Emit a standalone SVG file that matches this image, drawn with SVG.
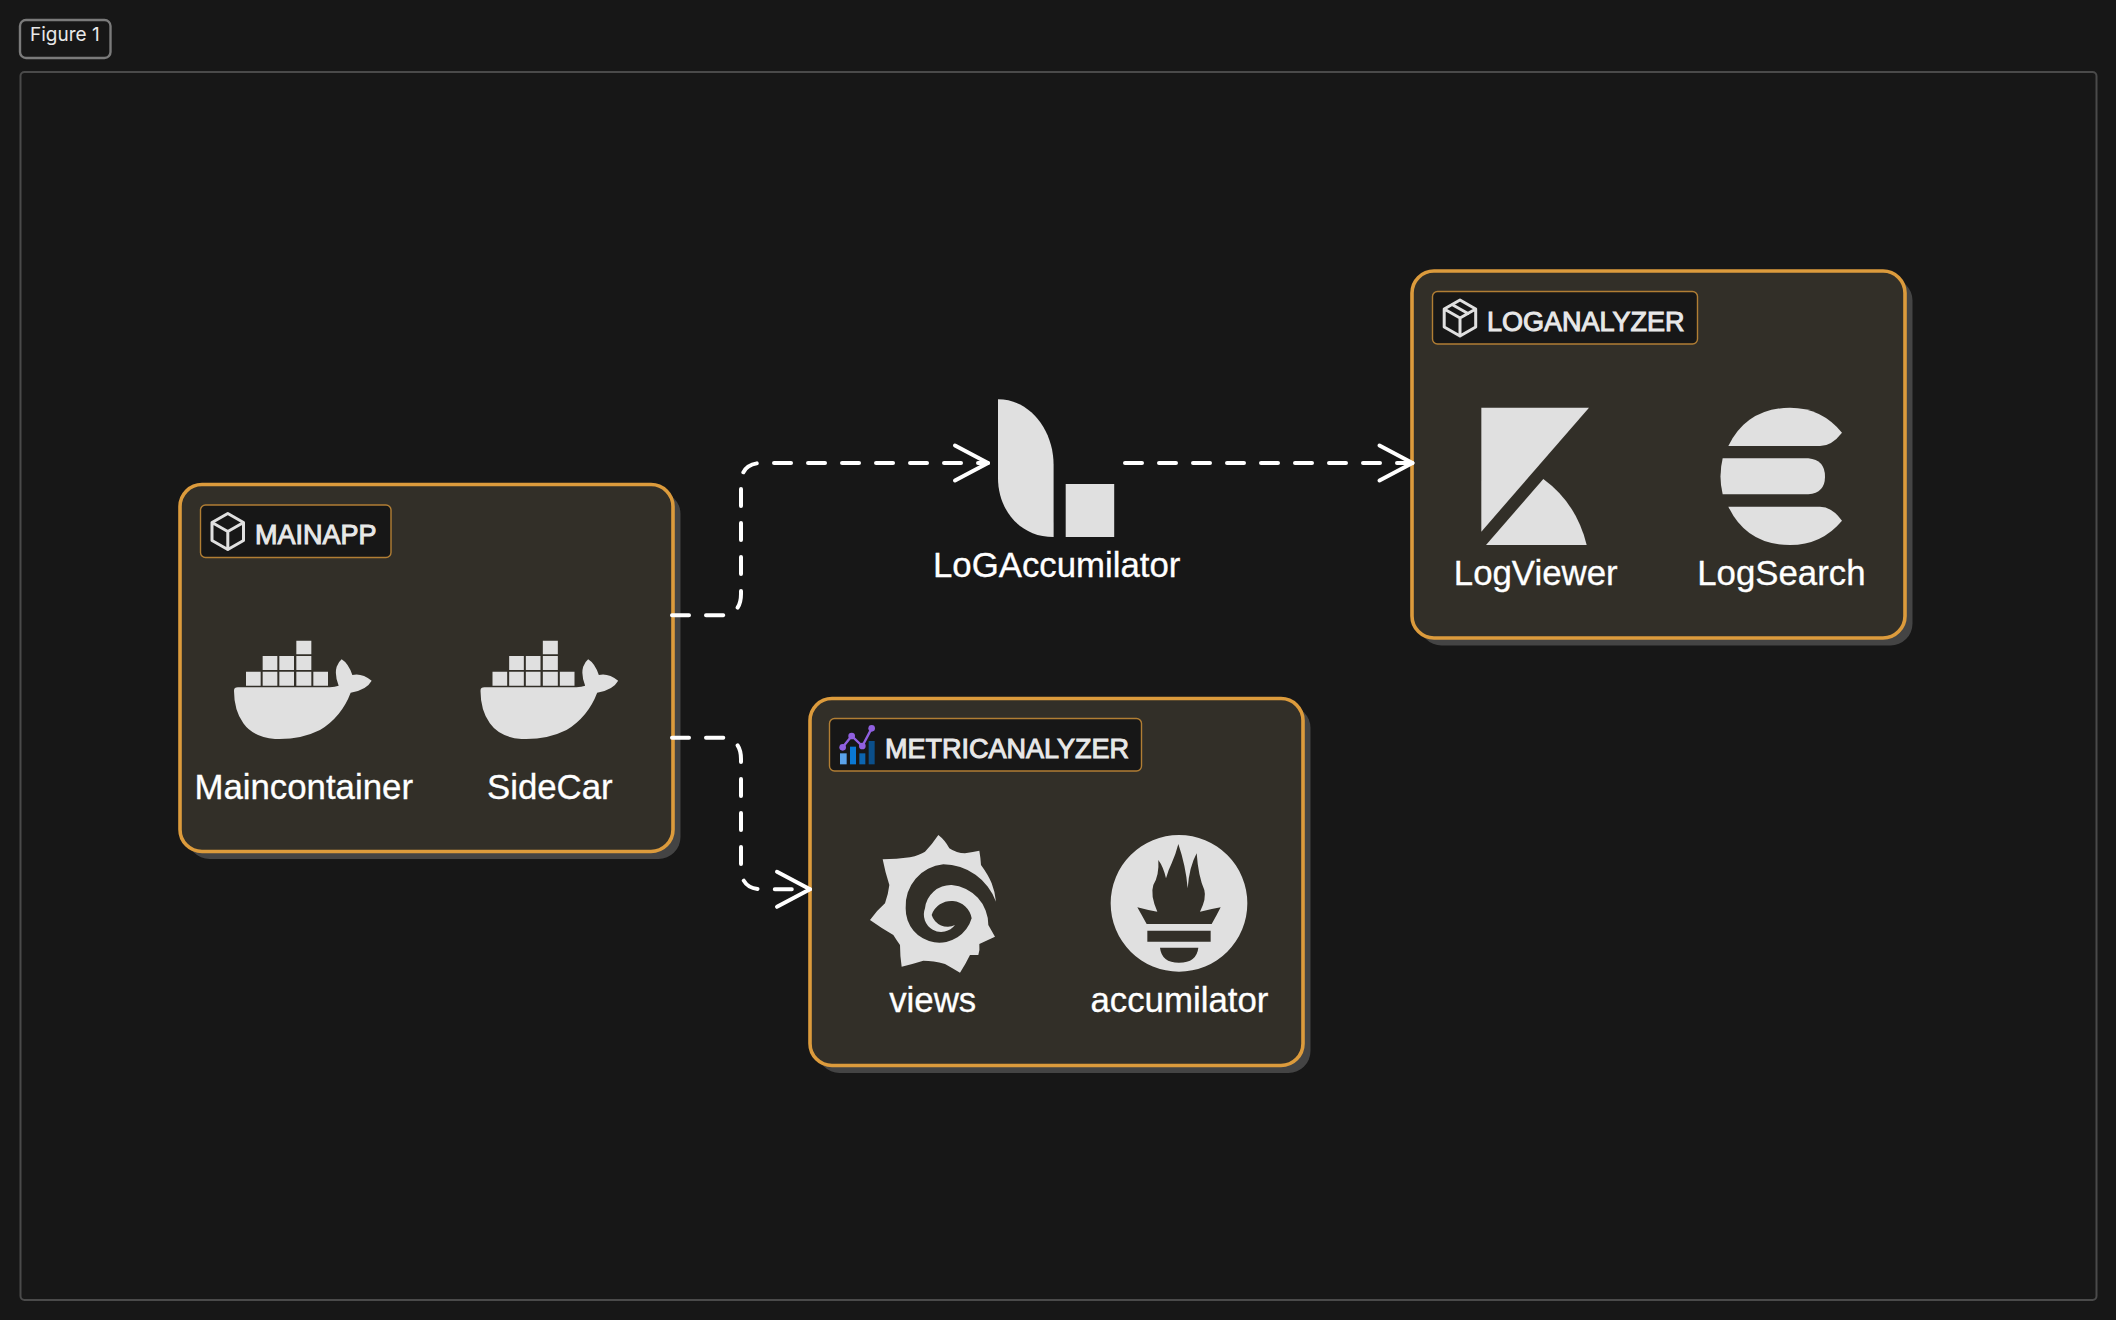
<svg xmlns="http://www.w3.org/2000/svg" width="2116" height="1320" viewBox="0 0 2116 1320">
<style>
.bg{fill:#171717}
.frame{fill:none;stroke:#4a4a4a;stroke-width:2}
.tag{fill:#171717;stroke:#7b7b7b;stroke-width:2.4}
.tagt{font:19px Inter,"Liberation Sans",sans-serif;fill:#e8e8e8}
.shadow{fill:#444}
.box{fill:#322f28;stroke:#dc9b3c;stroke-width:3.6}
.lab{fill:#171717;stroke:#b17e34;stroke-width:1.4}
.title{font:27px "Liberation Sans",Arial,sans-serif;fill:#e8e8e8;stroke:#e8e8e8;stroke-width:1}
.name{font:34.8px "Liberation Sans",Arial,sans-serif;fill:#fff;stroke:#fff;stroke-width:.3;text-anchor:middle}
.ico{fill:#e0e0e0}
.cube{fill:none;stroke:#e0e0e0;stroke-width:3;stroke-linejoin:round;stroke-linecap:round}
.edge{fill:none;stroke:#fff;stroke-width:4;stroke-dasharray:17 17;stroke-linecap:round;marker-end:url(#open)}
</style>
<defs>
<marker id="open" markerUnits="userSpaceOnUse" markerWidth="44" markerHeight="48" refX="36" refY="22" orient="auto" overflow="visible">
<path d="M3 4.500 L36 22 L3 39.500" fill="none" stroke="#fff" stroke-width="4" stroke-linecap="round" stroke-linejoin="round"/>
</marker>
<g id="docker">
<path class="ico" d="M42 212Q42 202 54 202L330 202Q345 201 356 197Q343 165 350 140Q356 125 365 118Q385 130 397 165Q425 158 455 182Q440 210 392 218Q365 290 300 330Q240 360 165 357Q100 352 70 310Q42 270 42 212Z"/>
<path class="ico" d="M229 62h45v41h-45zM128 108h44v42h-44zM178 108h44v42h-44zM229 108h45v42h-45zM78 155h44v42h-44zM128 155h44v42h-44zM178 155h44v42h-44zM229 155h45v42h-45zM280 155h44v42h-44z"/>
</g>
</defs>
<rect class="bg" width="2116" height="1320"/>
<g id="figure-tag"><rect class="tag" x="20" y="20" width="90.500" height="38" rx="6"/><text class="tagt" x="30" y="41">Figure 1</text></g>
<rect class="frame" x="20.500" y="72" width="2076" height="1228" rx="4"/>

<g id="MAINAPP">
<rect class="shadow" x="187.500" y="492" width="493" height="367" rx="22"/>
<rect class="box" x="180" y="484.500" width="493" height="367" rx="22"/>
<rect class="lab" x="200.500" y="505" width="190.500" height="52.500" rx="5"/>
<path class="cube" d="M227.800 513.500L243.500 522.500V540.500L227.800 549.500L212 540.500V522.500ZM212 522.500L227.800 531.500L243.500 522.500M227.800 531.500V549.500"/>
<text class="title" x="255" y="544">MAINAPP</text>
<g id="Maincontainer"><use href="#docker" transform="translate(220 620) scale(.33333)"/><text class="name" x="303.700" y="799">Maincontainer</text></g>
<g id="SideCar"><use href="#docker" transform="translate(466.500 620) scale(.33333)"/><text class="name" x="549.800" y="799">SideCar</text></g>
</g>

<g id="LoGAccumilator">
<path class="ico" d="M998 399.300C1030 399.300 1053.600 430 1053.600 465V537C1020 537 998 510 998 478Z"/>
<rect class="ico" x="1065.700" y="484" width="48.500" height="53"/>
<text class="name" x="1056.700" y="577">LoGAccumilator</text>
</g>

<g id="LOGANALYZER">
<rect class="shadow" x="1419.500" y="278.500" width="493" height="367" rx="22"/>
<rect class="box" x="1412" y="271" width="493" height="367" rx="22"/>
<rect class="lab" x="1432.500" y="291.500" width="265" height="52.500" rx="5"/>
<path class="cube" d="M1460 300L1475.700 309V327L1460 336L1444.200 327V309ZM1444.200 309L1460 318L1475.700 309M1460 318V336M1452 304.500L1468 313.500"/>
<text class="title" x="1487" y="330.700">LOGANALYZER</text>
<g id="LogViewer">
<g transform="translate(1460 390) scale(.33333)"><path class="ico" d="M64 53H387L64 425Z"/><path class="ico" d="M250 267Q350 340 380 465H78Z"/></g>
<text class="name" x="1535.700" y="585">LogViewer</text>
</g>
<g id="LogSearch">
<g transform="translate(1460 390) scale(.33333)"><path class="ico" d="M805 168Q860 55 990 53Q1085 53 1146 128Q1115 168 1080 168Z"/><path class="ico" d="M788 205H1045Q1095 210 1095 260Q1095 308 1045 313H788Q775 260 788 205Z"/><path class="ico" d="M805 350H1080Q1115 350 1146 392Q1085 465 990 465Q860 465 805 350Z"/></g>
<text class="name" x="1781.400" y="585">LogSearch</text>
</g>
</g>

<g id="METRICANALYZER">
<rect class="shadow" x="817.500" y="706" width="493" height="367" rx="22"/>
<rect class="box" x="810" y="698.500" width="493" height="367" rx="22"/>
<rect class="lab" x="829.500" y="718.500" width="312" height="52.500" rx="5"/>
<g transform="translate(820 710) scale(.33333)">
<rect x="60" y="130" width="20" height="33" fill="#5ba3ea"/><rect x="90" y="110" width="18" height="53" fill="#0a78d4"/><rect x="118" y="130" width="18" height="33" fill="#0c65b0"/><rect x="146" y="93" width="18" height="70" fill="#0b4f8a"/>
<path d="M68 112L95 78L127 108L155 55" fill="none" stroke="#9060e0" stroke-width="7"/>
<circle cx="68" cy="112" r="10" fill="#9060e0"/><circle cx="95" cy="78" r="10" fill="#9060e0"/><circle cx="127" cy="108" r="10" fill="#9060e0"/><circle cx="155" cy="55" r="10" fill="#9060e0"/>
</g>
<text class="title" x="885" y="758.300">METRICANALYZER</text>
<g id="views">
<path class="ico" transform="translate(860 820) scale(.33333)" d="M68 118Q110 118 150 112Q180 105 195 95Q215 75 235 45Q255 60 268 85Q290 100 315 100Q340 95 358 92Q362 115 363 135Q385 165 395 190Q405 215 408 245A170 170 0 0 0 250 133A125 125 0 0 0 137 265A101 101 0 0 0 335 295A62 62 0 0 0 215 285A50 50 0 0 0 285 315A52 52 0 0 1 195 265A78 78 0 0 1 275 195A120 120 0 0 1 385 315L405 350L358 372Q360 390 355 405L330 405Q318 430 300 458Q278 445 255 432Q220 422 190 422Q158 432 125 440Q120 408 120 375Q108 358 100 345Q65 325 30 300Q52 270 75 250Q85 222 88 195Q75 155 68 118Z"/>
<text class="name" x="932.700" y="1012">views</text>
</g>
<g id="accumilator">
<path class="ico" fill-rule="evenodd" transform="translate(1100 820) scale(.33333)" d="M237 45A205 205 0 1 0 237 455A205 205 0 1 0 237 45ZM235 72Q228 100 215 130Q205 150 198 175Q190 140 175 120Q178 165 160 195Q150 225 172 275Q140 270 112 262Q125 285 140 312H335Q348 290 362 262Q330 268 300 275Q320 235 313 210Q295 170 290 100Q268 140 263 205Q258 140 235 72ZM142 332H332V365H142ZM180 383H295Q290 428 237 428Q185 428 180 383Z"/>
<text class="name" x="1179.400" y="1012">accumilator</text>
</g>
</g>

<g id="connectors">
<path class="edge" d="M672 615.300H720Q741 615.300 741 594V484Q741 463 762 463H988"/>
<path class="edge" d="M1125 463H1412.500"/>
<path class="edge" d="M672 737.700H720Q741 737.700 741 759V868Q741 889.300 762 889.300H810"/>
</g>
</svg>
